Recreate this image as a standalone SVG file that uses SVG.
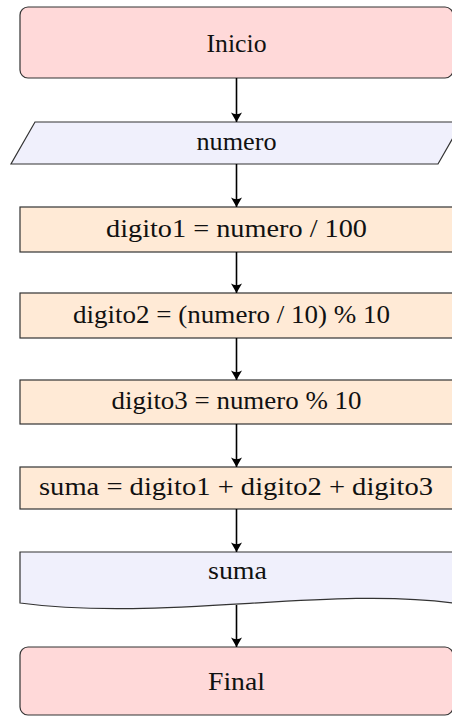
<svg xmlns="http://www.w3.org/2000/svg" width="452" height="716" viewBox="0 0 452 716">
<defs>
<style>
.term{fill:#ffd9d9;stroke:#333;stroke-width:1.2}
.io{fill:#f0f0fc;stroke:#333;stroke-width:1.2}
.proc{fill:#ffead6;stroke:#333;stroke-width:1.2}
.t{font-family:"Liberation Serif","DejaVu Serif",serif;font-size:25px;fill:#111;text-anchor:middle}
.edge{stroke:#000;stroke-width:1.6;fill:none;marker-end:url(#arr)}
</style>
<marker id="arr" markerUnits="userSpaceOnUse" markerWidth="14" markerHeight="14" viewBox="-10 -7 11 14" refX="0" refY="0" orient="auto">
<path d="M0,0 L-9.5,-5.5 Q-6,0 -9.5,5.5 Z" fill="#000"/>
</marker>
</defs>
<g id="inicio">
<rect class="term" x="20" y="7" width="433" height="71" rx="8" ry="8"/>
<text class="t" x="236.5" y="52" textLength="60" lengthAdjust="spacingAndGlyphs">Inicio</text>
</g>
<g id="numero">
<polygon class="io" points="35,122 462,122 438,164 11,164"/>
<text class="t" x="236.5" y="149.5" textLength="80" lengthAdjust="spacingAndGlyphs">numero</text>
</g>
<g id="digito1">
<rect class="proc" x="20" y="207" width="433" height="45"/>
<text class="t" x="236.5" y="236.5" textLength="261" lengthAdjust="spacingAndGlyphs">digito1 = numero / 100</text>
</g>
<g id="digito2">
<rect class="proc" x="20" y="293" width="433" height="45"/>
<text class="t" x="231.5" y="322.5" textLength="317" lengthAdjust="spacingAndGlyphs">digito2 = (numero / 10) % 10</text>
</g>
<g id="digito3">
<rect class="proc" x="20" y="380" width="433" height="44"/>
<text class="t" x="236.5" y="408.5" textLength="250" lengthAdjust="spacingAndGlyphs">digito3 = numero % 10</text>
</g>
<g id="suma">
<rect class="proc" x="20" y="467" width="433" height="42"/>
<text class="t" x="236" y="495" textLength="394" lengthAdjust="spacingAndGlyphs">suma = digito1 + digito2 + digito3</text>
</g>
<g id="salida">
<path class="io" d="M20,552 L453,552 L453,603 C330,586 160,622 20,603 Z"/>
<text class="t" x="237.5" y="579" textLength="59" lengthAdjust="spacingAndGlyphs">suma</text>
</g>
<g id="final">
<rect class="term" x="20" y="647" width="433" height="68" rx="8" ry="8"/>
<text class="t" x="236.5" y="690" textLength="57" lengthAdjust="spacingAndGlyphs">Final</text>
</g>
<g id="connectors">
<line class="edge" x1="236.5" y1="78" x2="236.5" y2="122"/>
<line class="edge" x1="236.5" y1="164" x2="236.5" y2="207"/>
<line class="edge" x1="236.5" y1="252" x2="236.5" y2="293"/>
<line class="edge" x1="236.5" y1="338" x2="236.5" y2="380"/>
<line class="edge" x1="236.5" y1="424" x2="236.5" y2="467"/>
<line class="edge" x1="236.5" y1="509" x2="236.5" y2="552"/>
<line class="edge" x1="236.5" y1="605" x2="236.5" y2="647"/>
</g>
</svg>
